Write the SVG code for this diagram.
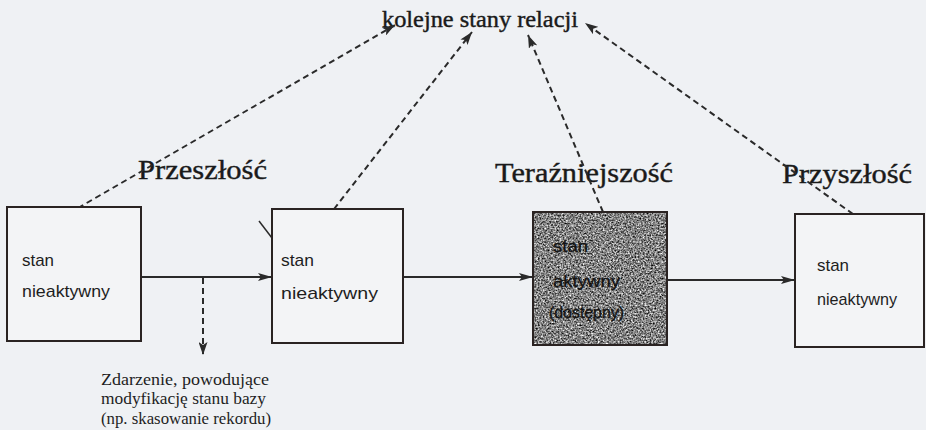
<svg xmlns="http://www.w3.org/2000/svg" width="926" height="430" viewBox="0 0 926 430">
  <defs>
    <style>
      .box { fill: #f3f4f6; stroke: #2a2322; stroke-width: 2; }
      .frame { fill: none; stroke: #2a2322; stroke-width: 2; }
      .flow { fill: none; stroke: #2a2a2a; stroke-width: 2; marker-end: url(#solidHead); }
      .link { fill: none; stroke: #2a2a2a; stroke-width: 2; stroke-dasharray: 6 4; marker-end: url(#dashHead); }
      .lbl { font-family: "Liberation Sans", Arial, sans-serif; font-size: 17px; fill: #1e1e1e; }
      .dark { fill: #141414; stroke: #141414; stroke-width: 0.3; }
      .era { font-family: "Liberation Serif", "Times New Roman", serif; font-size: 28px; fill: #1a1a1a; stroke: #1a1a1a; stroke-width: 0.4; }
      .title { font-family: "Liberation Serif", "Times New Roman", serif; font-size: 23px; fill: #1a1a1a; stroke: #1a1a1a; stroke-width: 0.4; }
      .note { font-family: "Liberation Serif", "Times New Roman", serif; font-size: 16px; fill: #1e1e1e; }
    </style>
    <marker id="solidHead" viewBox="0 0 14 8" refX="14" refY="4" markerWidth="14" markerHeight="8" orient="auto" markerUnits="userSpaceOnUse">
      <path d="M0,0 L14,4 L0,8 L3,4 z" fill="#2a2a2a"/>
    </marker>
    <marker id="dashHead" viewBox="0 0 13 9" refX="13" refY="4.5" markerWidth="13" markerHeight="9" orient="auto" markerUnits="userSpaceOnUse">
      <path d="M0,0 L13,4.5 L0,9 L3,4.5 z" fill="#2a2a2a"/>
    </marker>
    <!-- speckled grey texture for the active state -->
    <filter id="grain" x="0" y="0" width="100%" height="100%" color-interpolation-filters="sRGB">
      <feTurbulence type="fractalNoise" baseFrequency="0.6" numOctaves="2" seed="7" result="noise"/>
      <feColorMatrix in="noise" type="matrix" values="1.5 0 0 0 -0.24  1.5 0 0 0 -0.24  1.5 0 0 0 -0.24  0 0 0 0 1" result="grey"/>
      <feComposite in="grey" in2="SourceGraphic" operator="in"/>
    </filter>
  </defs>

  <rect x="0" y="0" width="926" height="430" fill="#eff1f4"/>

  <!-- title -->
  <text id="title" class="title" x="382" y="27" textLength="196" lengthAdjust="spacingAndGlyphs">kolejne stany relacji</text>

  <!-- time labels -->
  <text class="era" x="138" y="179" textLength="129" lengthAdjust="spacingAndGlyphs">Przeszłość</text>
  <text class="era" x="495" y="182" textLength="178" lengthAdjust="spacingAndGlyphs">Teraźniejszość</text>
  <text class="era" x="782" y="183" textLength="130" lengthAdjust="spacingAndGlyphs">Przyszłość</text>

  <!-- connectors -->
  <g id="connectors">
    <line class="flow" x1="141" y1="277" x2="272" y2="277"/>
    <line class="flow" x1="403" y1="277" x2="533" y2="277"/>
    <line class="flow" x1="667" y1="280" x2="795" y2="280"/>
    <line class="link" x1="203" y1="278" x2="203" y2="355"/>
    <line class="link" x1="78" y1="208" x2="395" y2="25"/>
    <line class="link" x1="334" y1="209" x2="472" y2="32"/>
    <line class="link" x1="603" y1="212" x2="528" y2="35"/>
    <line class="link" x1="853" y1="214" x2="585" y2="23"/>
    <line x1="259" y1="221" x2="272" y2="238" stroke="#2a2a2a" stroke-width="1.5"/>
  </g>

  <!-- past: inactive -->
  <g id="state-past">
    <rect class="box" x="7" y="207" width="134" height="134"/>
    <text class="lbl" x="22" y="266" textLength="32" lengthAdjust="spacingAndGlyphs">stan</text>
    <text class="lbl" x="22" y="297" textLength="88" lengthAdjust="spacingAndGlyphs">nieaktywny</text>
  </g>

  <!-- past: inactive -->
  <g id="state-past-2">
    <rect class="box" x="272" y="209" width="131" height="134"/>
    <text class="lbl" x="281" y="266" textLength="33" lengthAdjust="spacingAndGlyphs">stan</text>
    <text class="lbl" x="281" y="299" textLength="97" lengthAdjust="spacingAndGlyphs">nieaktywny</text>
  </g>

  <!-- present: active -->
  <g id="state-present">
    <rect x="533" y="212" width="134" height="133" fill="#000" filter="url(#grain)"/>
    <rect class="frame" x="533" y="212" width="134" height="133"/>
    <text class="lbl dark" x="553" y="252" textLength="35" lengthAdjust="spacingAndGlyphs">stan</text>
    <text class="lbl dark" x="553" y="287" textLength="67" lengthAdjust="spacingAndGlyphs">aktywny</text>
    <text class="lbl dark" x="549" y="318" textLength="75" lengthAdjust="spacingAndGlyphs">(dostępny)</text>
  </g>

  <!-- future: inactive -->
  <g id="state-future">
    <rect class="box" x="795" y="214" width="129" height="133"/>
    <text class="lbl" x="817" y="271" textLength="32" lengthAdjust="spacingAndGlyphs">stan</text>
    <text class="lbl" x="817" y="305" textLength="80" lengthAdjust="spacingAndGlyphs">nieaktywny</text>
  </g>

  <!-- event note -->
  <g id="event-note">
    <text class="note" x="101" y="385" textLength="168" lengthAdjust="spacingAndGlyphs">Zdarzenie, powodujące</text>
    <text class="note" x="101" y="404" textLength="165" lengthAdjust="spacingAndGlyphs">modyfikację stanu bazy</text>
    <text class="note" x="101" y="424" textLength="170" lengthAdjust="spacingAndGlyphs">(np. skasowanie rekordu)</text>
  </g>
</svg>
